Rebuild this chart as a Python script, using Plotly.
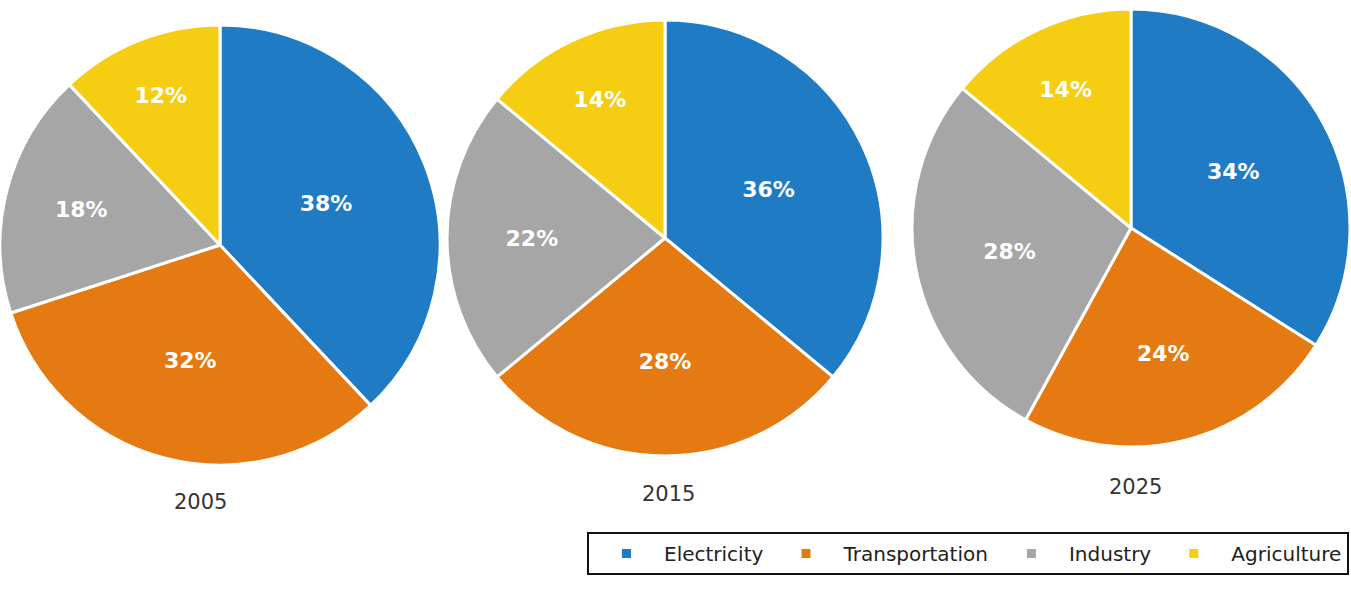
import plotly.graph_objects as go

categories = ["Electricity", "Transportation", "Industry", "Agriculture"]
years = ["2005", "2015", "2025"]
values_2005 = [38, 32, 18, 12]
values_2015 = [36, 28, 22, 14]
values_2025 = [34, 24, 28, 14]
colors = ["#1f7cc4", "#e67a12", "#a6a6a6", "#f5cd12"]

W, H = 1351, 590
# pie placement in figure pixels (center x, center y, radius)
pies = [
    (values_2005, 220, 245, 220),
    (values_2015, 665, 238, 218),
    (values_2025, 1131, 228, 219),
]
label_pos = [(200, 502), (668, 494), (1135, 487)]

fig = go.Figure()
for i, (vals, cx, cy, r) in enumerate(pies):
    fig.add_trace(go.Pie(
        labels=categories,
        values=vals,
        sort=False,
        direction="clockwise",
        rotation=0,
        marker=dict(colors=colors, line=dict(color="white", width=3)),
        texttemplate="%{value}%",
        textposition="inside",
        insidetextorientation="horizontal",
        textfont=dict(family="DejaVu Sans", size=22, color="white", weight="bold"),
        hoverinfo="label+percent",
        showlegend=(i == 0),
        domain=dict(x=[max(0, (cx - r) / W), min(1, (cx + r) / W)],
                    y=[1 - (cy + r) / H, 1 - (cy - r) / H]),
    ))

for yr, (px, py) in zip(years, label_pos):
    fig.add_annotation(
        text=yr, x=px / W, y=1 - py / H, xref="paper", yref="paper",
        showarrow=False, xanchor="center", yanchor="middle",
        font=dict(family="DejaVu Sans", size=21, color="#333333"),
    )

fig.update_layout(
    width=W, height=H,
    margin=dict(l=0, r=0, t=0, b=0),
    paper_bgcolor="white",
    plot_bgcolor="white",
    legend=dict(
        orientation="h",
        x=587 / W, xanchor="left",
        y=1 - 532 / H, yanchor="top",
        bgcolor="white",
        bordercolor="#111111",
        borderwidth=2,
        itemwidth=65,
        font=dict(family="DejaVu Sans", size=20, color="#222222"),
        traceorder="normal",
    ),
)

fig.write_html(
    "out.html",
    config={"displayModeBar": False},
    post_script="document.body.style.margin='0px'; document.body.style.overflow='hidden';",
)
